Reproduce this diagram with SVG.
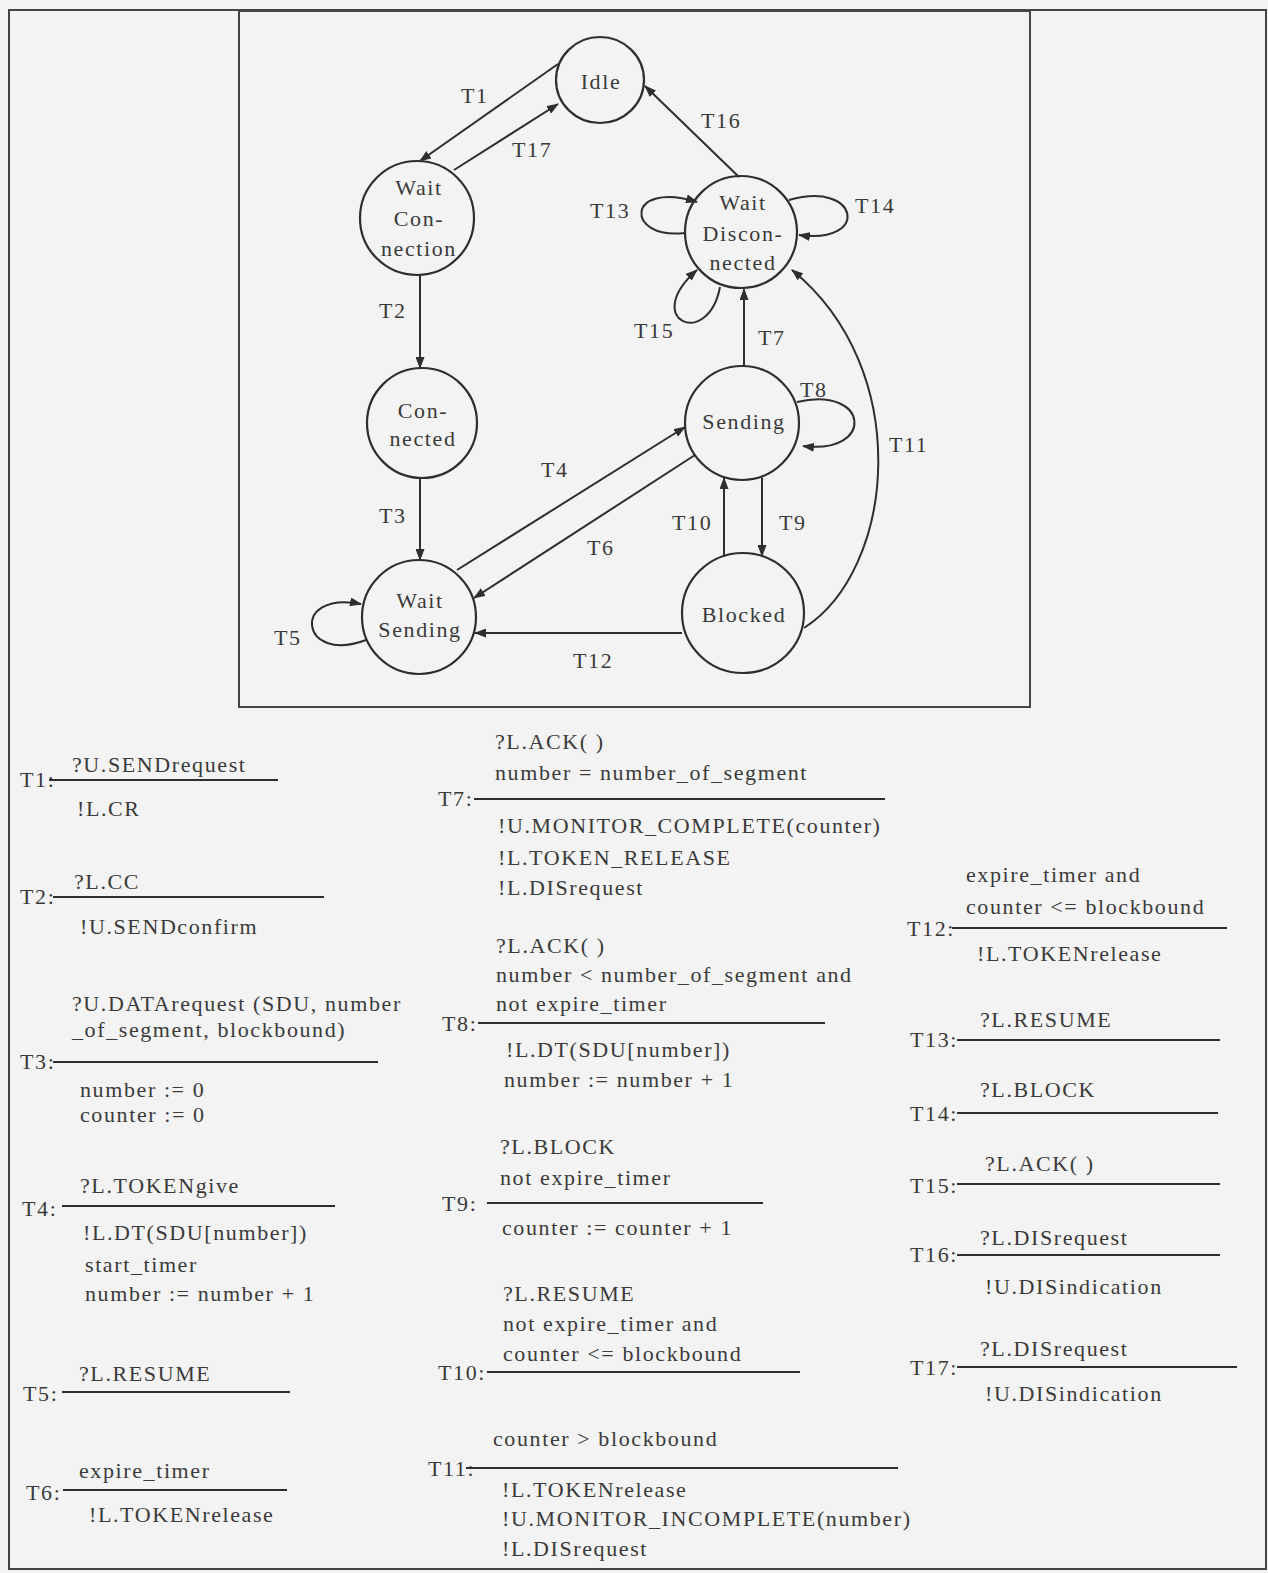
<svg xmlns="http://www.w3.org/2000/svg" width="1268" height="1573" viewBox="0 0 1268 1573">
<style>
text{font-family:"Liberation Serif","Times New Roman",serif;font-size:22px;letter-spacing:1.6px;fill:#3a3a3a}
.n text{text-anchor:middle}
.node{fill:none;stroke:#2e2e2e;stroke-width:2.2}
.e{fill:none;stroke:#2e2e2e;stroke-width:2}
.rule{stroke:#2e2e2e;stroke-width:2.2}
.frame{fill:none;stroke:#444;stroke-width:2}
</style>
<defs>
<marker id="ah" viewBox="0 0 12 9" refX="11" refY="4.5" markerWidth="12" markerHeight="9" markerUnits="userSpaceOnUse" orient="auto">
<path d="M0,0 L12,4.5 L0,9 z" fill="#2e2e2e"/>
</marker>
</defs>
<rect x="0" y="0" width="1268" height="1573" fill="#f3f3f3"/>
<rect class="frame" x="9" y="10" width="1257" height="1559"/>
<rect class="frame" x="239" y="11" width="791" height="696" stroke-width="2.4"/>

<g id="connectors">
<line class="e" x1="558" y1="64" x2="420" y2="161" marker-end="url(#ah)"/>
<line class="e" x1="454" y1="170" x2="558" y2="104" marker-end="url(#ah)"/>
<line class="e" x1="739" y1="177" x2="645" y2="86" marker-end="url(#ah)"/>
<path class="e" d="M685 233 C625 240 625 180 697 202" marker-end="url(#ah)"/>
<path class="e" d="M789 200 C860 180 870 245 799 235" marker-end="url(#ah)"/>
<path class="e" d="M720 287 C708 350 640 320 697 270" marker-end="url(#ah)"/>
<line class="e" x1="744" y1="366" x2="744" y2="289" marker-end="url(#ah)"/>
<line class="e" x1="420" y1="275" x2="420" y2="368" marker-end="url(#ah)"/>
<line class="e" x1="420" y1="478" x2="420" y2="560" marker-end="url(#ah)"/>
<line class="e" x1="457" y1="570" x2="685" y2="427" marker-end="url(#ah)"/>
<line class="e" x1="695" y1="455" x2="474" y2="598" marker-end="url(#ah)"/>
<path class="e" d="M797 402 C870 385 875 455 803 446" marker-end="url(#ah)"/>
<line class="e" x1="762" y1="478" x2="762" y2="556" marker-end="url(#ah)"/>
<line class="e" x1="724" y1="556" x2="724" y2="478" marker-end="url(#ah)"/>
<line class="e" x1="682" y1="633" x2="475" y2="633" marker-end="url(#ah)"/>
<path class="e" d="M366 640 C300 665 290 590 361 604" marker-end="url(#ah)"/>
<path class="e" d="M804 628 C895 570 915 370 792 270" marker-end="url(#ah)"/>
<text x="461" y="103">T1</text>
<text x="512" y="157">T17</text>
<text x="701" y="128">T16</text>
<text x="590" y="218">T13</text>
<text x="855" y="213">T14</text>
<text x="634" y="338">T15</text>
<text x="758" y="345">T7</text>
<text x="379" y="318">T2</text>
<text x="800" y="397">T8</text>
<text x="541" y="477">T4</text>
<text x="379" y="523">T3</text>
<text x="672" y="530">T10</text>
<text x="779" y="530">T9</text>
<text x="587" y="555">T6</text>
<text x="274" y="645">T5</text>
<text x="573" y="668">T12</text>
<text x="889" y="452">T11</text>
</g>

<g id="idle" class="n"><ellipse class="node" cx="600" cy="80" rx="44" ry="43"/><text x="601" y="89">Idle</text></g>
<g id="wait-connection" class="n"><ellipse class="node" cx="417" cy="218" rx="57" ry="57"/><text x="419" y="195">Wait</text><text x="419" y="226">Con-</text><text x="419" y="256">nection</text></g>
<g id="wait-disconnected" class="n"><ellipse class="node" cx="741" cy="232" rx="56" ry="56"/><text x="743" y="210">Wait</text><text x="743" y="241">Discon-</text><text x="743" y="270">nected</text></g>
<g id="connected" class="n"><ellipse class="node" cx="422" cy="423" rx="55" ry="55"/><text x="423" y="418">Con-</text><text x="423" y="446">nected</text></g>
<g id="sending" class="n"><ellipse class="node" cx="742" cy="423" rx="57" ry="57"/><text x="744" y="429">Sending</text></g>
<g id="wait-sending" class="n"><ellipse class="node" cx="419" cy="617" rx="57" ry="57"/><text x="420" y="608">Wait</text><text x="420" y="637">Sending</text></g>
<g id="blocked" class="n"><ellipse class="node" cx="743" cy="613" rx="61" ry="60"/><text x="744" y="622">Blocked</text></g>

<g id="def-T1"><text x="72" y="772">?U.SENDrequest</text><text x="20" y="787">T1:</text><line class="rule" x1="49" y1="780" x2="278" y2="780"/><text x="77" y="816">!L.CR</text></g>
<g id="def-T2"><text x="74" y="889">?L.CC</text><text x="20" y="904">T2:</text><line class="rule" x1="53" y1="897" x2="324" y2="897"/><text x="80" y="934">!U.SENDconfirm</text></g>
<g id="def-T3"><text x="72" y="1011">?U.DATArequest (SDU, number</text><text x="72" y="1037">_of_segment, blockbound)</text><text x="20" y="1069">T3:</text><line class="rule" x1="53" y1="1062" x2="378" y2="1062"/><text x="80" y="1097">number := 0</text><text x="80" y="1122">counter := 0</text></g>
<g id="def-T4"><text x="80" y="1193">?L.TOKENgive</text><text x="22" y="1216">T4:</text><line class="rule" x1="62" y1="1206" x2="335" y2="1206"/><text x="83" y="1240">!L.DT(SDU[number])</text><text x="85" y="1272">start_timer</text><text x="85" y="1301">number := number + 1</text></g>
<g id="def-T5"><text x="79" y="1381">?L.RESUME</text><text x="23" y="1401">T5:</text><line class="rule" x1="62" y1="1392" x2="290" y2="1392"/></g>
<g id="def-T6"><text x="79" y="1478">expire_timer</text><text x="26" y="1500">T6:</text><line class="rule" x1="63" y1="1490" x2="287" y2="1490"/><text x="89" y="1522">!L.TOKENrelease</text></g>

<g id="def-T7"><text x="495" y="749">?L.ACK( )</text><text x="495" y="780">number = number_of_segment</text><text x="438" y="806">T7:</text><line class="rule" x1="474" y1="799" x2="885" y2="799"/><text x="498" y="833">!U.MONITOR_COMPLETE(counter)</text><text x="498" y="865">!L.TOKEN_RELEASE</text><text x="498" y="895">!L.DISrequest</text></g>
<g id="def-T8"><text x="496" y="953">?L.ACK( )</text><text x="496" y="982">number &lt; number_of_segment and</text><text x="496" y="1011">not expire_timer</text><text x="442" y="1031">T8:</text><line class="rule" x1="478" y1="1023" x2="825" y2="1023"/><text x="506" y="1057">!L.DT(SDU[number])</text><text x="504" y="1087">number := number + 1</text></g>
<g id="def-T9"><text x="500" y="1154">?L.BLOCK</text><text x="500" y="1185">not expire_timer</text><text x="442" y="1211">T9:</text><line class="rule" x1="487" y1="1203" x2="763" y2="1203"/><text x="502" y="1235">counter := counter + 1</text></g>
<g id="def-T10"><text x="503" y="1301">?L.RESUME</text><text x="503" y="1331">not expire_timer and</text><text x="503" y="1361">counter &lt;= blockbound</text><text x="438" y="1380">T10:</text><line class="rule" x1="487" y1="1372" x2="800" y2="1372"/></g>
<g id="def-T11"><text x="493" y="1446">counter &gt; blockbound</text><text x="428" y="1476">T11:</text><line class="rule" x1="466" y1="1468" x2="898" y2="1468"/><text x="502" y="1497">!L.TOKENrelease</text><text x="502" y="1526">!U.MONITOR_INCOMPLETE(number)</text><text x="502" y="1556">!L.DISrequest</text></g>

<g id="def-T12"><text x="966" y="882">expire_timer and</text><text x="966" y="914">counter &lt;= blockbound</text><text x="907" y="936">T12:</text><line class="rule" x1="952" y1="928" x2="1227" y2="928"/><text x="977" y="961">!L.TOKENrelease</text></g>
<g id="def-T13"><text x="980" y="1027">?L.RESUME</text><text x="910" y="1047">T13:</text><line class="rule" x1="957" y1="1040" x2="1220" y2="1040"/></g>
<g id="def-T14"><text x="980" y="1097">?L.BLOCK</text><text x="910" y="1121">T14:</text><line class="rule" x1="957" y1="1113" x2="1218" y2="1113"/></g>
<g id="def-T15"><text x="985" y="1171">?L.ACK( )</text><text x="910" y="1193">T15:</text><line class="rule" x1="957" y1="1184" x2="1220" y2="1184"/></g>
<g id="def-T16"><text x="980" y="1245">?L.DISrequest</text><text x="910" y="1262">T16:</text><line class="rule" x1="957" y1="1255" x2="1220" y2="1255"/><text x="985" y="1294">!U.DISindication</text></g>
<g id="def-T17"><text x="980" y="1356">?L.DISrequest</text><text x="910" y="1375">T17:</text><line class="rule" x1="957" y1="1367" x2="1237" y2="1367"/><text x="985" y="1401">!U.DISindication</text></g>
</svg>
